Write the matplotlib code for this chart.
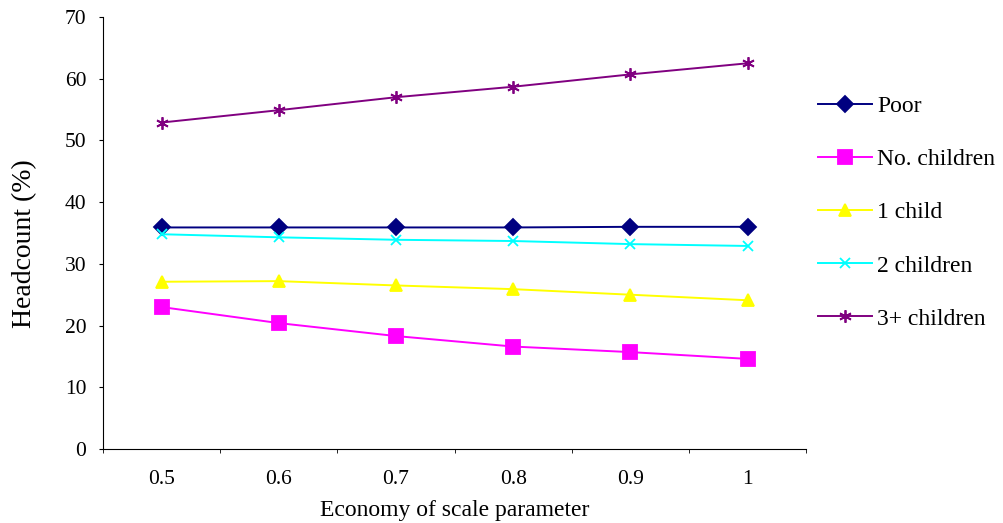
import matplotlib.pyplot as plt
import numpy as np

plt.rcParams['font.family'] = ['Liberation Serif', 'DejaVu Serif']

categories = ['0.5', '0.6', '0.7', '0.8', '0.9', '1']
poor = [35.9, 35.9, 35.9, 35.9, 36.0, 36.0]
no_children = [23.0, 20.4, 18.3, 16.6, 15.7, 14.6]
one_child = [27.1, 27.2, 26.5, 25.9, 25.0, 24.1]
two_children = [34.8, 34.3, 33.9, 33.7, 33.2, 32.9]
three_plus = [52.9, 54.9, 57.0, 58.7, 60.7, 62.5]

series = [
    ('Poor', poor, '#000080', 'D', 8),
    ('No. children', no_children, '#FF00FF', 's', 10),
    ('1 child', one_child, '#FFFF00', '^', 8),
    ('2 children', two_children, '#00FFFF', 'x', 7),
    ('3+ children', three_plus, '#800080', (6, 2, 0), 9),
]

fig = plt.figure(figsize=(10.04, 5.23), dpi=100)
ax = fig.add_axes([0.1026, 0.1415, 0.7004, 0.826])

x = np.arange(len(categories))
for label, vals, color, marker, ms in series:
    ax.plot(x, vals, color=color, marker=marker, markersize=ms, lw=1.4,
            label=label, markeredgecolor=color, markerfacecolor=color,
            markeredgewidth=1.3)

ax.set_xlim(-0.5, len(categories) - 0.5)
ax.set_ylim(0, 70)
ax.set_yticks(range(0, 71, 10))
ax.set_xticks(x)
ax.set_xticklabels(categories)
ax.set_xticks(np.arange(-0.5, len(categories)), minor=True)
ax.tick_params(axis='x', which='major', length=0, pad=15, labelsize=15.5)
ax.tick_params(axis='x', which='minor', length=3, direction='out')
ax.tick_params(axis='y', length=3, direction='out', labelsize=15.5, pad=9)

ax.spines['top'].set_visible(False)
ax.spines['right'].set_visible(False)

ax.set_xlabel('Economy of scale parameter', fontsize=17, labelpad=8)
ax.set_ylabel('Headcount (%)', fontsize=20)
ax.yaxis.set_label_coords(-0.093, 0.475)

fig.legend(loc='upper left', bbox_to_anchor=(0.794, 0.858), frameon=False,
           fontsize=17, labelspacing=1.34, handlelength=2.25,
           handletextpad=0.25)

fig.savefig('out.png', dpi=100)
